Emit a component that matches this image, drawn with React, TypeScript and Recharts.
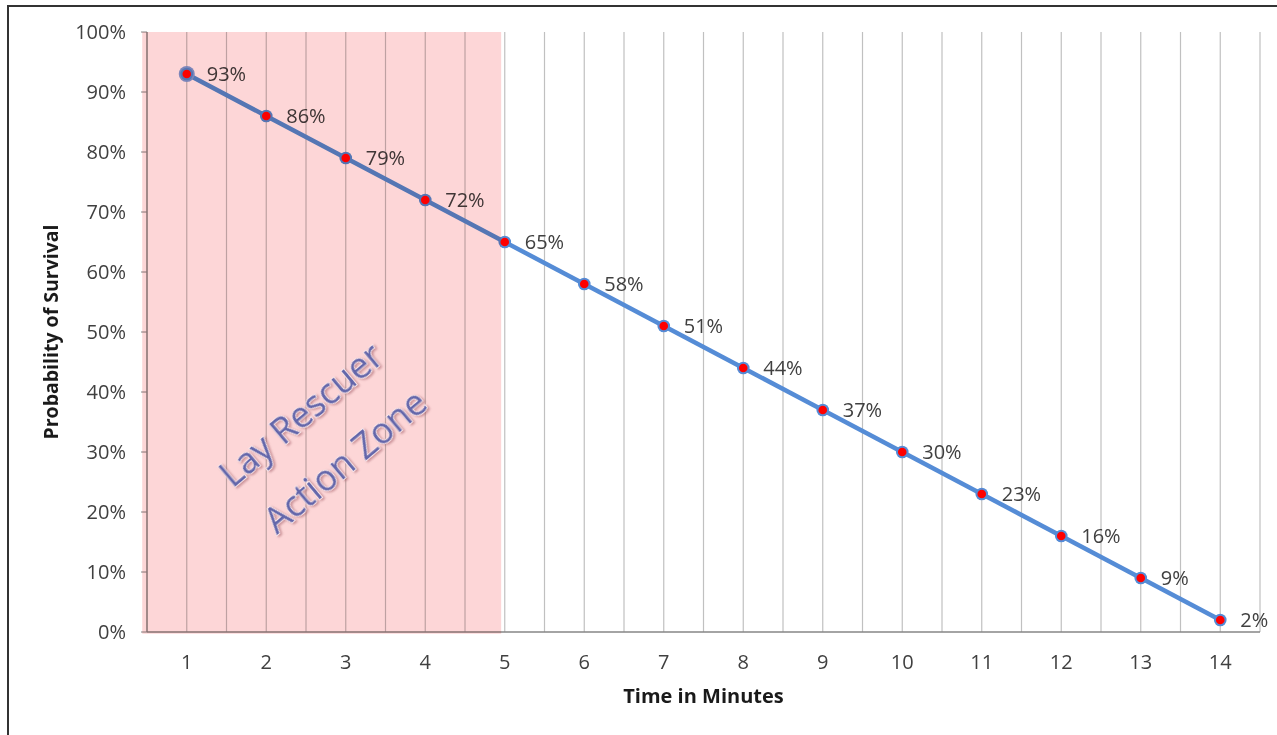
import React from 'react';
import { LineChart, Line, XAxis, YAxis, CartesianGrid, ReferenceArea, LabelList } from 'recharts';

const minutes = [1, 2, 3, 4, 5, 6, 7, 8, 9, 10, 11, 12, 13, 14];
const survival = [0.93, 0.86, 0.79, 0.72, 0.65, 0.58, 0.51, 0.44, 0.37, 0.3, 0.23, 0.16, 0.09, 0.02];
const yTicks = [0, 0.1, 0.2, 0.3, 0.4, 0.5, 0.6, 0.7, 0.8, 0.9, 1];
const gridTicks = [0.5, 1, 1.5, 2, 2.5, 3, 3.5, 4, 4.5, 5, 5.5, 6, 6.5, 7, 7.5, 8, 8.5, 9, 9.5, 10, 10.5, 11, 11.5, 12, 12.5, 13, 13.5, 14, 14.5];
const zoneLines = ['Lay Rescuer', 'Action Zone'];
const zoneFrom = 0.44;
const zoneTo = 4.955;

const data = minutes.map((m, i) => ({ minute: m, survival: survival[i] }));

const FONT = "'Open Sans', sans-serif";
const LINE = '#558CD6';
const pct = (v: number) => `${Math.round(v * 100)}%`;

function ZoneLabel(props: any) {
  const vb = props.viewBox || { x: 0, y: 0 };
  const cx = vb.x + 180;
  const cy = vb.y + 405;
  const st: React.CSSProperties = {
    fontFamily: FONT,
    fontSize: 36,
    fill: '#6366AA',
    stroke: '#F6E4E8',
    strokeWidth: 2,
    paintOrder: 'stroke',
    filter: 'drop-shadow(1px 2px 1px rgba(160,90,100,0.55))',
  };
  return (
    <g transform={`translate(${cx},${cy}) rotate(-40)`}>
      <text x={-2} y={-32} textAnchor="middle" dominantBaseline="central" style={st}>{zoneLines[0]}</text>
      <text x={2} y={32} textAnchor="middle" dominantBaseline="central" style={st}>{zoneLines[1]}</text>
    </g>
  );
}

function renderDot(p: any) {
  const { cx, cy, index } = p;
  if (cx == null || cy == null) return <g key={`d${index}`} />;
  return (
    <g key={`d${index}`}>
      {index === 0 && <circle cx={cx} cy={cy} r={8} fill="#7E9FDC" />}
      <circle cx={cx} cy={cy} r={6.3} fill={LINE} />
      <circle cx={cx} cy={cy} r={4.3} fill="#FF0000" />
    </g>
  );
}

export default function App() {
  return (
    <div style={{ position: 'absolute', left: 0, top: 0, width: 1277, height: 735, overflow: 'hidden', background: '#fff' }}>
      <div style={{ position: 'absolute', left: 7, top: 5, width: 1400, height: 900, borderTop: '2px solid #333', borderLeft: '2px solid #333' }} />
      <div style={{ position: 'absolute', left: 0, top: 0 }}>
        <LineChart width={1277} height={735} data={data} margin={{ top: 32, right: 17, bottom: 0, left: 0 }}>
          <CartesianGrid horizontal={false} vertical stroke="#C0C0C0" strokeWidth={1.2} />
          <XAxis
            dataKey="minute"
            type="number"
            domain={[0.5, 14.5]}
            ticks={gridTicks}
            interval={0}
            tickFormatter={(v: number) => (Number.isInteger(v) ? String(v) : '')}
            tickLine={false}
            tickSize={0}
            tickMargin={23}
            height={103}
            axisLine={{ stroke: '#868686', strokeWidth: 1.3 }}
            tick={{ fill: '#404040', fontSize: 20, fontFamily: FONT }}
            label={{ value: 'Time in Minutes', position: 'insideTop', offset: 57, fill: '#1a1a1a', fontSize: 20, fontWeight: 700, fontFamily: FONT }}
          />
          <YAxis
            type="number"
            domain={[0, 1]}
            ticks={yTicks}
            interval={0}
            width={147}
            tickFormatter={pct}
            tickSize={6}
            tickMargin={15}
            axisLine={{ stroke: '#868686', strokeWidth: 1.3 }}
            tickLine={{ stroke: '#868686' }}
            tick={{ fill: '#404040', fontSize: 20, fontFamily: FONT }}
            label={{ value: 'Probability of Survival', angle: -90, position: 'insideLeft', offset: 51, fill: '#1a1a1a', fontSize: 19.5, fontWeight: 700, fontFamily: FONT, style: { textAnchor: 'middle' } }}
          />
          <Line
            type="linear"
            dataKey="survival"
            stroke={LINE}
            strokeWidth={4.5}
            dot={renderDot}
            activeDot={false}
            isAnimationActive={false}
          >
            <LabelList dataKey="survival" position="right" offset={20} formatter={(v: any) => pct(Number(v))} fill="#404040" fontSize={20} fontFamily={FONT} />
          </Line>
          <ReferenceArea
            x1={zoneFrom}
            x2={zoneTo}
            y1={-0.003}
            y2={1}
            ifOverflow="visible"
            fill="#FDD6D7"
            fillOpacity={1}
            stroke="none"
            style={{ mixBlendMode: 'multiply' }}
            zIndex={3000}
            label={<ZoneLabel />}
          />
        </LineChart>
      </div>
    </div>
  );
}
